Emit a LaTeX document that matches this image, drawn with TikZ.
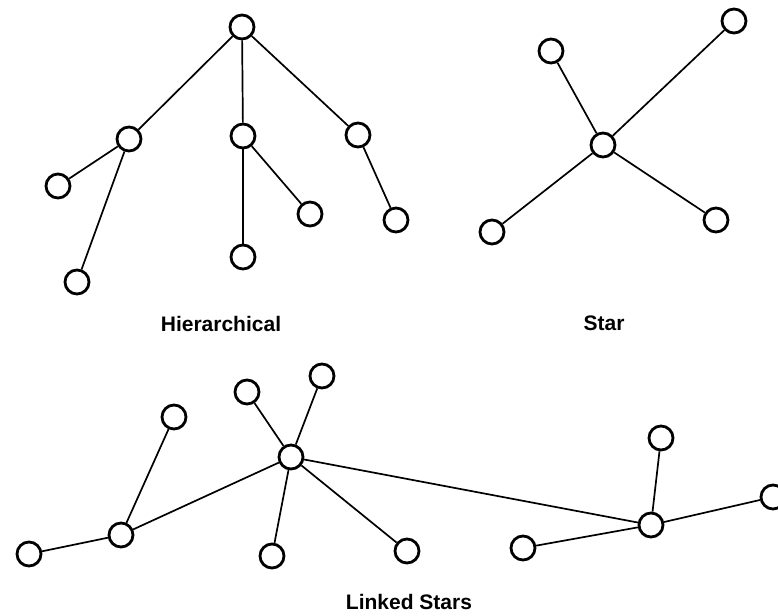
\documentclass[tikz,border=0pt]{standalone}
\usepackage{fontspec}
\setmainfont{Liberation Sans}
\begin{document}
\begin{tikzpicture}[x=1pt,y=-1pt,
  nd/.style={circle,draw,line width=2.8pt,minimum size=24pt,inner sep=0pt,fill=white},
  ed/.style={line width=1.7pt},
  lbl/.style={font=\bfseries\fontsize{21}{24}\selectfont,anchor=base,inner sep=0pt}]
\useasboundingbox (0,0) rectangle (778,615);
\clip (0,0) rectangle (778,615);
% Hierarchical
\node[nd] (h0) at (242,27) {};
\node[nd] (h1) at (129,139) {};
\node[nd] (h2) at (243,136) {};
\node[nd] (h3) at (358,135) {};
\node[nd] (h4) at (58,186) {};
\node[nd] (h5) at (77,282) {};
\node[nd] (h6) at (243,257) {};
\node[nd] (h7) at (310,214) {};
\node[nd] (h8) at (396,220) {};
\draw[ed] (h0) -- (h1);
\draw[ed] (h0) -- (h2);
\draw[ed] (h0) -- (h3);
\draw[ed] (h1) -- (h4);
\draw[ed] (h1) -- (h5);
\draw[ed] (h2) -- (h6);
\draw[ed] (h2) -- (h7);
\draw[ed] (h3) -- (h8);
\node[lbl] (lh) at (221,331) {Hierarchical};
% Star
\node[nd] (s0) at (603,145) {};
\node[nd] (s1) at (551,51) {};
\node[nd] (s2) at (734,21) {};
\node[nd] (s3) at (492,232) {};
\node[nd] (s4) at (716,220) {};
\draw[ed] (s0) -- (s1);
\draw[ed] (s0) -- (s2);
\draw[ed] (s0) -- (s3);
\draw[ed] (s0) -- (s4);
\node[lbl] (ls) at (604,330) {Star};
% Linked stars
\node[nd] (a0) at (121,535) {};
\node[nd] (a1) at (29,554) {};
\node[nd] (a2) at (174,417) {};
\node[nd] (b0) at (291,457) {};
\node[nd] (b1) at (247,392) {};
\node[nd] (b2) at (322,376) {};
\node[nd] (b3) at (272,556) {};
\node[nd] (b4) at (407,551) {};
\node[nd] (c0) at (651,525) {};
\node[nd] (c1) at (661,438) {};
\node[nd] (c2) at (523,548) {};
\node[nd] (c3) at (773,497) {};
\draw[ed] (a0) -- (a1);
\draw[ed] (a0) -- (a2);
\draw[ed] (a0) -- (b0);
\draw[ed] (b0) -- (b1);
\draw[ed] (b0) -- (b2);
\draw[ed] (b0) -- (b3);
\draw[ed] (b0) -- (b4);
\draw[ed] (b0) -- (c0);
\draw[ed] (c0) -- (c1);
\draw[ed] (c0) -- (c2);
\draw[ed] (c0) -- (c3);
\node[lbl] (ll) at (409,609) {Linked Stars};
\end{tikzpicture}
\end{document}
